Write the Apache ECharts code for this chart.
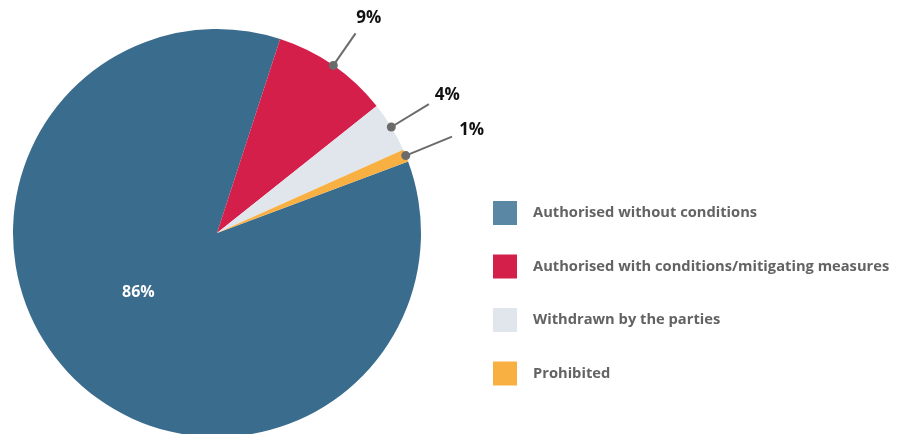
<!DOCTYPE html>
<html>
<head>
<meta charset="utf-8">
<script src="https://cdn.jsdelivr.net/npm/echarts@6/dist/echarts.min.js"></script>
<style>html,body{margin:0;padding:0;background:#fff}#chart{width:906px;height:434px}</style>
</head>
<body>
<div id="chart"></div>
<script>
const categories = ["Authorised without conditions", "Authorised with conditions/mitigating measures", "Withdrawn by the parties", "Prohibited"];
const values = [85.7, 9.3, 4.0, 1.0];
const sliceColors = ["#3a6c8e", "#d31f4a", "#e1e6ec", "#f9b043"];
const legendColors = ["#5a87a3", "#d31f4a", "#e1e6ec", "#f9b043"];

const chart = echarts.init(document.getElementById('chart'), null, {renderer: 'canvas'});
const FONT = '"Open Sans"';
const leaderLengths = [0, 39, 44, 50];

const data = categories.map((name, i) => {
  const item = { name: name, value: values[i], itemStyle: { color: sliceColors[i] } };
  if (i === 0) {
    item.label = { position: 'inside', color: '#ffffff', fontSize: 16, offset: [-6, -16] };
    item.labelLine = { show: false };
  } else {
    item.labelLine = { length: leaderLengths[i] };
  }
  return item;
});

const option = {
  animation: false,
  backgroundColor: '#ffffff',
  legend: {
    orient: 'vertical',
    left: 493,
    top: 201,
    padding: 0,
    itemWidth: 24,
    itemHeight: 24,
    itemGap: 29.5,
    icon: 'rect',
    selectedMode: false,
    textStyle: { fontFamily: FONT, fontWeight: 'bold', fontSize: 14.7, color: '#636363', padding: [2, 0, 0, 11] },
    data: categories.map((name, i) => ({ name: name, itemStyle: { color: legendColors[i] } }))
  },
  series: [{
    type: 'pie',
    center: [217, 233],
    radius: [0, 204],
    startAngle: 20.5,
    clockwise: true,
    avoidLabelOverlap: false,
    percentPrecision: 0,
    itemStyle: { borderWidth: 0 },
    emphasis: { disabled: true },
    label: {
      show: true,
      position: 'outside',
      formatter: '{d}%',
      fontFamily: FONT,
      fontWeight: 'bold',
      fontSize: 17,
      color: '#111111'
    },
    labelLine: {
      show: true,
      length: 44,
      length2: 0,
      lineStyle: { color: '#6b6b6b', width: 2 }
    },
    labelLayout: function (params) {
      const pts = params.labelLinePoints;
      if (!pts || pts.length < 2) return {};
      const a = pts[0], b = pts[pts.length - 1];
      const dx = b[0] - a[0], dy = b[1] - a[1];
      const len = Math.sqrt(dx * dx + dy * dy) || 1;
      return {
        x: b[0] + dx / len * 18 + 3,
        y: b[1] + dy / len * 18,
        align: 'center',
        verticalAlign: 'middle',
        labelLinePoints: pts
      };
    },
    data: data
  }],
  graphic: []
};

chart.setOption(option);

// dots at the start of each label line, from the library's own sector layout
const sData = chart.getModel().getSeriesByIndex(0).getData();
const dots = [];
for (let i = 1; i < values.length; i++) {
  const l = sData.getItemLayout(i);
  const mid = (l.startAngle + l.endAngle) / 2;
  dots.push({
    type: 'circle',
    shape: { cx: l.cx + l.r * Math.cos(mid), cy: l.cy + l.r * Math.sin(mid), r: 4.5 },
    style: { fill: '#6b6b6b' },
    z: 100
  });
}
chart.setOption({ graphic: dots });
</script>
</body>
</html>
